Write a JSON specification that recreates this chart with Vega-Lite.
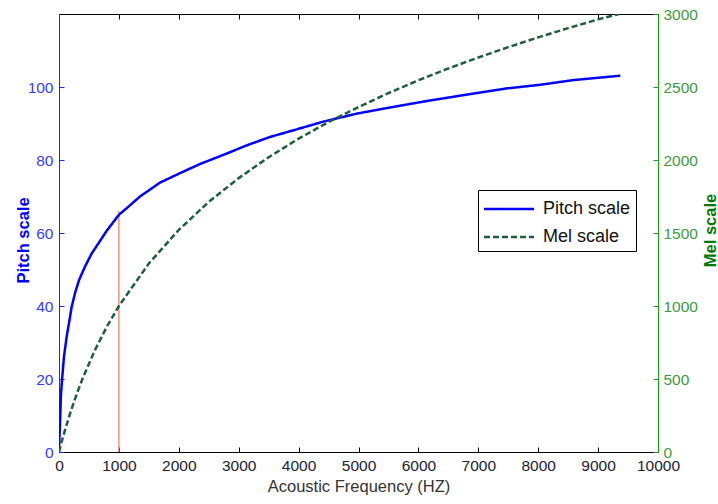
{
  "$schema": "https://vega.github.io/schema/vega-lite/v6.json",
  "width": 599,
  "height": 438,
  "autosize": {"type": "none"},
  "padding": {"left": 59, "top": 14, "right": 60, "bottom": 52},
  "background": "white",
  "config": {
    "view": {"stroke": "black", "strokeWidth": 1},
    "font": "Liberation Sans",
    "axis": {"grid": false, "labelFont": "Liberation Sans", "titleFont": "Liberation Sans"}
  },
  "datasets": {
    "pitch": [
      {"freq": 0, "value": 1, "series": "Pitch scale"},
      {"freq": 17, "value": 7.9, "series": "Pitch scale"},
      {"freq": 33, "value": 16, "series": "Pitch scale"},
      {"freq": 55, "value": 20.6, "series": "Pitch scale"},
      {"freq": 83, "value": 26.1, "series": "Pitch scale"},
      {"freq": 128, "value": 31.6, "series": "Pitch scale"},
      {"freq": 167, "value": 35.3, "series": "Pitch scale"},
      {"freq": 212, "value": 39.8, "series": "Pitch scale"},
      {"freq": 267, "value": 43.5, "series": "Pitch scale"},
      {"freq": 334, "value": 47.1, "series": "Pitch scale"},
      {"freq": 434, "value": 50.8, "series": "Pitch scale"},
      {"freq": 546, "value": 54.4, "series": "Pitch scale"},
      {"freq": 684, "value": 57.8, "series": "Pitch scale"},
      {"freq": 796, "value": 60.6, "series": "Pitch scale"},
      {"freq": 1000, "value": 65, "series": "Pitch scale"},
      {"freq": 1130, "value": 66.8, "series": "Pitch scale"},
      {"freq": 1352, "value": 70, "series": "Pitch scale"},
      {"freq": 1686, "value": 73.8, "series": "Pitch scale"},
      {"freq": 2020, "value": 76.4, "series": "Pitch scale"},
      {"freq": 2354, "value": 78.9, "series": "Pitch scale"},
      {"freq": 2743, "value": 81.4, "series": "Pitch scale"},
      {"freq": 3133, "value": 84, "series": "Pitch scale"},
      {"freq": 3520, "value": 86.3, "series": "Pitch scale"},
      {"freq": 3970, "value": 88.4, "series": "Pitch scale"},
      {"freq": 4410, "value": 90.5, "series": "Pitch scale"},
      {"freq": 4970, "value": 92.7, "series": "Pitch scale"},
      {"freq": 5530, "value": 94.4, "series": "Pitch scale"},
      {"freq": 6190, "value": 96.3, "series": "Pitch scale"},
      {"freq": 6920, "value": 98.2, "series": "Pitch scale"},
      {"freq": 7470, "value": 99.6, "series": "Pitch scale"},
      {"freq": 8030, "value": 100.6, "series": "Pitch scale"},
      {"freq": 8590, "value": 101.9, "series": "Pitch scale"},
      {"freq": 9370, "value": 103.1, "series": "Pitch scale"}
    ],
    "mel": [
      {"freq": 0, "value": 0, "series": "Mel scale"},
      {"freq": 50, "value": 78, "series": "Mel scale"},
      {"freq": 100, "value": 150, "series": "Mel scale"},
      {"freq": 200, "value": 283, "series": "Mel scale"},
      {"freq": 300, "value": 402, "series": "Mel scale"},
      {"freq": 400, "value": 509, "series": "Mel scale"},
      {"freq": 600, "value": 698, "series": "Mel scale"},
      {"freq": 800, "value": 859, "series": "Mel scale"},
      {"freq": 1000, "value": 1000, "series": "Mel scale"},
      {"freq": 1500, "value": 1291, "series": "Mel scale"},
      {"freq": 2000, "value": 1521, "series": "Mel scale"},
      {"freq": 2500, "value": 1713, "series": "Mel scale"},
      {"freq": 3000, "value": 1876, "series": "Mel scale"},
      {"freq": 3500, "value": 2019, "series": "Mel scale"},
      {"freq": 4000, "value": 2146, "series": "Mel scale"},
      {"freq": 4500, "value": 2260, "series": "Mel scale"},
      {"freq": 5000, "value": 2363, "series": "Mel scale"},
      {"freq": 5500, "value": 2458, "series": "Mel scale"},
      {"freq": 6000, "value": 2546, "series": "Mel scale"},
      {"freq": 6500, "value": 2627, "series": "Mel scale"},
      {"freq": 7000, "value": 2702, "series": "Mel scale"},
      {"freq": 7500, "value": 2773, "series": "Mel scale"},
      {"freq": 8000, "value": 2840, "series": "Mel scale"},
      {"freq": 8500, "value": 2903, "series": "Mel scale"},
      {"freq": 9000, "value": 2963, "series": "Mel scale"},
      {"freq": 9350, "value": 3000, "series": "Mel scale"}
    ],
    "marker": [{"freq": 1000, "low": 0, "high": 66}]
  },
  "layer": [
    {
      "layer": [
        {
          "data": {"name": "marker"},
          "mark": {"type": "rule", "color": "#E8826E", "strokeWidth": 1.3},
          "encoding": {
            "x": {"field": "freq", "type": "quantitative"},
            "y": {"field": "low", "type": "quantitative"},
            "y2": {"field": "high"}
          }
        },
        {
          "data": {"name": "pitch"},
          "mark": {"type": "line", "strokeWidth": 2.5, "clip": true},
          "encoding": {
            "x": {
              "field": "freq", "type": "quantitative",
              "scale": {"domain": [0, 10000], "nice": false, "zero": false},
              "axis": {
                "orient": "bottom", "values": [0,1000,2000,3000,4000,5000,6000,7000,8000,9000,10000],
                "format": "d", "title": "Acoustic Frequency (HZ)", "labelOverlap": false, "labelBound": false, "labelFlush": false,
                "domainColor": "black", "tickColor": "black", "tickSize": -5,
                "labelPadding": 11, "labelColor": "#222233", "labelFontSize": 15.5,
                "titleFontSize": 16.5, "titleFontWeight": "normal", "titleColor": "#333333", "titlePadding": 5
              }
            },
            "y": {
              "field": "value", "type": "quantitative",
              "scale": {"domain": [0, 120], "nice": false},
              "axis": {
                "orient": "left", "values": [0,20,40,60,80,100], "labelOverlap": false,
                "title": "Pitch scale", "domainColor": "#2222ff", "tickColor": "#2222ff", "tickSize": -5,
                "labelPadding": 11, "labelColor": "#3a3aff", "labelFontSize": 15.5,
                "titleColor": "#0000ff", "titleFontSize": 16.5, "titleFontWeight": "bold",
                "titleAngle": 270, "titleX": -31, "titleY": 226, "titleBaseline": "alphabetic", "titleAlign": "center"
              }
            },
            "color": {
              "field": "series", "type": "nominal",
              "scale": {"domain": ["Pitch scale", "Mel scale"], "range": ["#0000ff", "#1f5e3a"]},
              "legend": {
                "title": null, "orient": "none", "legendX": 419, "legendY": 176,
                "symbolType": "M-2,0H2", "symbolSize": 625, "symbolStrokeWidth": 2.5, "symbolOffset": 12,
                "labelFontSize": 18, "labelColor": "#111111", "labelFont": "Liberation Sans", "labelOffset": 20,
                "strokeColor": "black", "fillColor": "white", "padding": 5, "rowPadding": 5
              }
            },
            "strokeDash": {
              "field": "series", "type": "nominal",
              "scale": {"domain": ["Pitch scale", "Mel scale"], "range": [[1, 0], [6, 3]]},
              "legend": {
                "title": null, "orient": "none", "legendX": 419, "legendY": 176,
                "symbolType": "M-2,0H2", "symbolSize": 625, "symbolStrokeWidth": 2.5, "symbolOffset": 12,
                "labelFontSize": 18, "labelColor": "#111111", "labelFont": "Liberation Sans", "labelOffset": 20,
                "strokeColor": "black", "fillColor": "white", "padding": 5, "rowPadding": 5
              }
            }
          }
        }
      ]
    },
    {
      "data": {"name": "mel"},
      "mark": {"type": "line", "strokeWidth": 2.5, "clip": true},
      "encoding": {
        "x": {
          "field": "freq", "type": "quantitative",
          "scale": {"domain": [0, 10000], "nice": false, "zero": false},
          "axis": {
            "orient": "top", "values": [0,1000,2000,3000,4000,5000,6000,7000,8000,9000,10000],
            "labels": false, "title": null, "domainColor": "black", "tickColor": "black", "tickSize": -5
          }
        },
        "y": {
          "field": "value", "type": "quantitative",
          "scale": {"domain": [0, 3000], "nice": false},
          "axis": {
            "orient": "right", "values": [0,500,1000,1500,2000,2500,3000], "format": "d", "labelOverlap": false,
            "title": "Mel scale", "domainColor": "#1a9a1a", "tickColor": "#1a9a1a", "tickSize": -5,
            "labelPadding": 10, "labelColor": "#3f9a3f", "labelFontSize": 15.5,
            "titleColor": "#007a00", "titleFontSize": 16.5, "titleFontWeight": "bold",
            "titleAngle": 270, "titleX": 57, "titleY": 216, "titleBaseline": "alphabetic", "titleAlign": "center"
          }
        },
        "color": {"field": "series", "type": "nominal"},
        "strokeDash": {"field": "series", "type": "nominal"}
      }
    }
  ],
  "resolve": {"scale": {"y": "independent"}, "axis": {"x": "independent", "y": "independent"}}
}
